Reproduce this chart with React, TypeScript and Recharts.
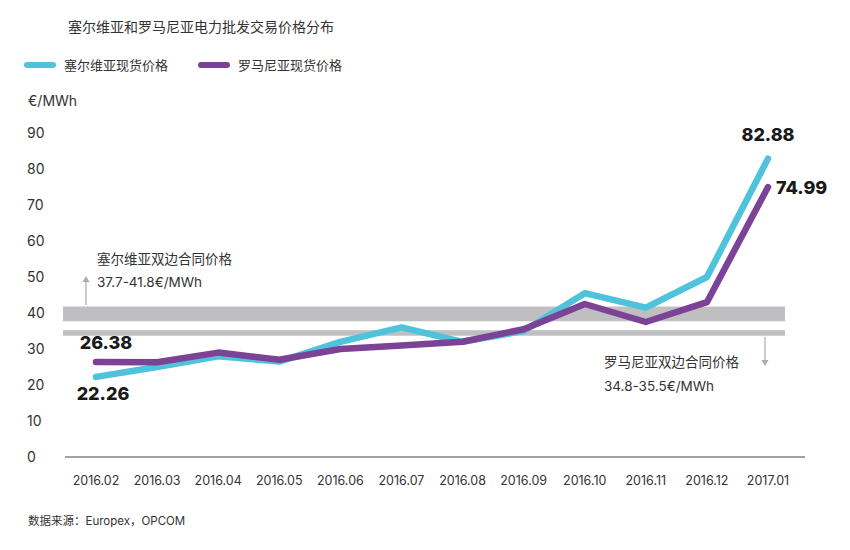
import React from "react";
import {
  Line,
  LineChart,
  LabelList,
  ReferenceArea,
  XAxis,
  YAxis,
} from "recharts";

const months = [
  "2016.02", "2016.03", "2016.04", "2016.05", "2016.06", "2016.07",
  "2016.08", "2016.09", "2016.10", "2016.11", "2016.12", "2017.01",
];
const serbia = [22.26, 25, 28, 26.5, 32, 36, 32, 35, 45.5, 41.5, 50, 82.88];
const romania = [26.38, 26.3, 29, 27, 30, 31, 32, 35.5, 42.5, 37.5, 43, 74.99];
const yTicks = [0, 10, 20, 30, 40, 50, 60, 70, 80, 90];
const serbiaBand = [37.7, 41.8];
const romaniaBand = [34.8, 35.5];

const CYAN = "#4fc3db";
const PURPLE = "#7c4295";
const BAND = "#bfbfc2";
const TEXT = "#333";
const FONT = "Inter, 'Noto Sans CJK SC', sans-serif";

const data = months.map((m, i) => ({ month: m, serbia: serbia[i], romania: romania[i] }));

// bands start left of the first point and stop short of the axis end
function SerbiaBandShape(props: any) {
  return <rect x={props.x - 33} y={props.y} width={props.width + 50} height={props.height} fill={BAND} />;
}

// the printed band is drawn thicker than its 0.7 range, so pad it a little
function RomaniaBandShape(props: any) {
  return <rect x={props.x - 33} y={props.y + 1} width={props.width + 50} height={props.height + 3} fill={BAND} />;
}

function YTick({ y, payload }: any) {
  return (
    <text x={27} y={y} dy={5} fontSize={14} fill={TEXT} fontFamily={FONT}>{payload.value}</text>
  );
}

function XTick({ x, y, payload }: any) {
  return (
    <text x={x} y={y + 20} textAnchor="middle" fontSize={12.5} fill={TEXT} fontFamily={FONT}>
      {payload.value}
    </text>
  );
}

const bold = { fontSize: 18, fontWeight: 800, fill: "#1a1a1a", fontFamily: FONT };

function SerbiaLabel({ x, y, index, value }: any) {
  if (index === 0) return <text x={x + 7} y={y + 23} textAnchor="middle" {...bold}>{value.toFixed(2)}</text>;
  if (index === months.length - 1) return <text x={x} y={y - 18} textAnchor="middle" {...bold}>{value.toFixed(2)}</text>;
  return null;
}

function RomaniaLabel({ x, y, index, value }: any) {
  if (index === 0) return <text x={x + 10} y={y - 13} textAnchor="middle" {...bold}>{value.toFixed(2)}</text>;
  if (index === months.length - 1) return <text x={x + 8} y={y + 7} textAnchor="start" {...bold}>{value.toFixed(2)}</text>;
  return null;
}

function LegendItem({ color, label, width }: { color: string; label: string; width: number }) {
  return (
    <div style={{ display: "flex", alignItems: "center", width }}>
      <span style={{ display: "inline-block", width: 32, height: 6, borderRadius: 3, background: color, marginRight: 8 }} />
      <span style={{ fontSize: 13, color: TEXT }}>{label}</span>
    </div>
  );
}

export default function App() {
  return (
    <div style={{ position: "relative", width: 850, height: 550, fontFamily: FONT, color: TEXT, background: "#fff" }}>
      <style>{`body{margin:0}`}</style>
      <div style={{ position: "absolute", left: 68, top: 16, fontSize: 14 }}>塞尔维亚和罗马尼亚电力批发交易价格分布</div>
      <div style={{ position: "absolute", left: 24, top: 55, display: "flex" }}>
        <LegendItem color={CYAN} label="塞尔维亚现货价格" width={174} />
        <LegendItem color={PURPLE} label="罗马尼亚现货价格" width={200} />
      </div>
      <div style={{ position: "absolute", left: 28, top: 92, fontSize: 14 }}>€/MWh</div>
      <LineChart width={850} height={550} data={data} margin={{ top: 133, right: 45, bottom: 0, left: 0 }}>
        <YAxis width={65} domain={[0, 90]} ticks={yTicks} axisLine={false} tickLine={false} tick={<YTick />} />
        <XAxis dataKey="month" height={93} padding={{ left: 31, right: 37 }}
          axisLine={{ stroke: "#444", strokeWidth: 1 }} tickLine={false} tick={<XTick />} interval={0} />
        <ReferenceArea y1={serbiaBand[0]} y2={serbiaBand[1]} fill={BAND} fillOpacity={1} ifOverflow="visible"
          shape={<SerbiaBandShape />} />
        <ReferenceArea y1={romaniaBand[0]} y2={romaniaBand[1]} fill={BAND} fillOpacity={1} ifOverflow="visible"
          shape={<RomaniaBandShape />} />
        <Line dataKey="serbia" stroke={CYAN} strokeWidth={6.5} strokeLinecap="round" strokeLinejoin="round"
          dot={false} activeDot={false} isAnimationActive={false}>
          <LabelList dataKey="serbia" content={<SerbiaLabel />} />
        </Line>
        <Line dataKey="romania" stroke={PURPLE} strokeWidth={6.5} strokeLinecap="round" strokeLinejoin="round"
          dot={false} activeDot={false} isAnimationActive={false}>
          <LabelList dataKey="romania" content={<RomaniaLabel />} />
        </Line>
      </LineChart>
      <svg style={{ position: "absolute", left: 0, top: 0, pointerEvents: "none" }} width={850} height={550}>
        <line x1={86} y1={305} x2={86} y2={280} stroke="#aaa" strokeWidth={1.2} />
        <path d="M82.5 282 L86 276 L89.5 282 Z" fill="#aaa" />
        <line x1={765} y1={337} x2={765} y2={362} stroke="#aaa" strokeWidth={1.2} />
        <path d="M761.5 360 L765 366 L768.5 360 Z" fill="#aaa" />
      </svg>
      <div style={{ position: "absolute", left: 97, top: 248, fontSize: 13.5, lineHeight: "23px" }}>
        <div>塞尔维亚双边合同价格</div>
        <div>37.7-41.8€/MWh</div>
      </div>
      <div style={{ position: "absolute", left: 604, top: 350, fontSize: 13.5, lineHeight: "24px" }}>
        <div>罗马尼亚双边合同价格</div>
        <div>34.8-35.5€/MWh</div>
      </div>
      <div style={{ position: "absolute", left: 28, top: 512, fontSize: 11.5 }}>数据来源：Europex，OPCOM</div>
    </div>
  );
}
